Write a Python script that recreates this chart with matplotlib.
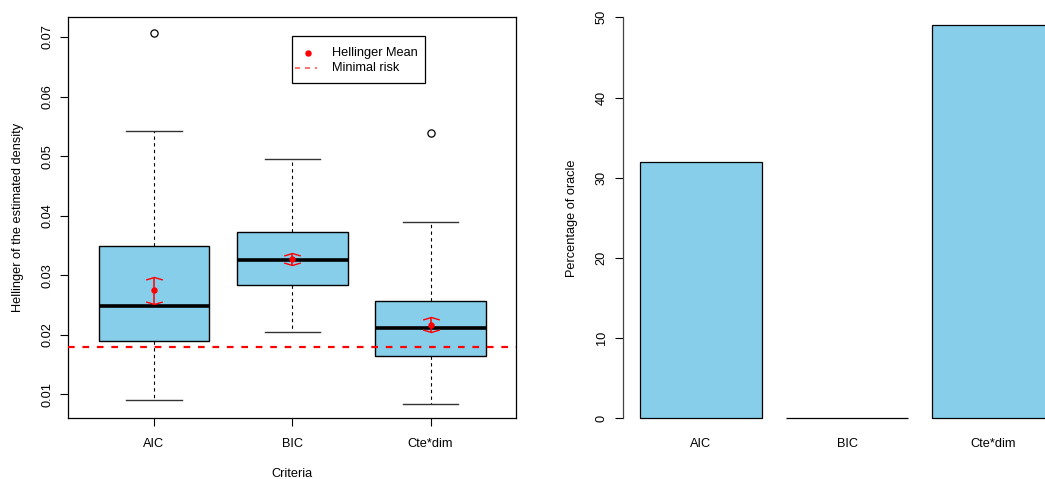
import matplotlib
matplotlib.use('Agg')
import matplotlib.pyplot as plt
import numpy as np
from matplotlib.path import Path
from matplotlib.patches import Rectangle

plt.rcParams['font.family'] = ['Liberation Sans', 'DejaVu Sans']

criteria = ['AIC', 'BIC', 'Cte*dim']

# five-number summaries of the Hellinger risk per criterion
whis_lo = [0.0090, 0.0204, 0.0084]
q1 = [0.0189, 0.0284, 0.0164]
med = [0.0249, 0.0325, 0.0211]
q3 = [0.0349, 0.0372, 0.0257]
whis_hi = [0.0542, 0.0495, 0.0389]
outliers = [[0.0707], [], [0.0538]]

# mean with its confidence band
hell_mean = [0.0275, 0.0327, 0.0217]
mean_lo = [0.0252, 0.0317, 0.0204]
mean_hi = [0.0297, 0.0338, 0.0230]

min_risk = 0.0179

# how often each criterion picked the oracle model
oracle_pct = [32, 0, 49]

W, H = 1045, 479
fig = plt.figure(figsize=(W / 100, H / 100), dpi=100)
fs = 9.2
sky = '#87CEEB'


def px_axes(x0, x1, y0, y1):
    return fig.add_axes([x0 / W, 1 - y1 / H, (x1 - x0) / W, (y1 - y0) / H])


# ---- left panel: boxplots ----
L, R, T, B = 68.3, 516.3, 17.3, 418.3
ax = px_axes(L, R, T, B)


def frac(px, py):
    return (px - L) / (R - L), (B - py) / (B - T)


stats = []
for i in range(3):
    stats.append(dict(med=med[i], q1=q1[i], q3=q3[i], whislo=whis_lo[i],
                      whishi=whis_hi[i], fliers=outliers[i]))
pos = np.arange(1, 4)
ax.bxp(stats, positions=pos, widths=0.8, patch_artist=True, showfliers=True,
       boxprops=dict(facecolor=sky, edgecolor='black', linewidth=1.0),
       medianprops=dict(color='black', linewidth=2.6, solid_capstyle='butt'),
       whiskerprops=dict(color='black', linewidth=0.8, linestyle=(0, (3, 3))),
       capprops=dict(color='#333333', linewidth=1.0),
       capwidths=0.4,
       flierprops=dict(marker='o', markerfacecolor='none', markeredgecolor='black',
                       markersize=5.2, markeredgewidth=0.9))

ax.axhline(min_risk, color='red', linewidth=1.6, linestyle=(0, (3, 3.5)), zorder=5)

# mean points with arrow-style caps
top_cap = Path([(-1, -0.3), (0, 0), (1, -0.3)], [Path.MOVETO, Path.LINETO, Path.LINETO])
bot_cap = Path([(-1, 0.3), (0, 0), (1, 0.3)], [Path.MOVETO, Path.LINETO, Path.LINETO])
ax.vlines(pos, mean_lo, mean_hi, color='red', linewidth=1.1, zorder=6)
ax.plot(pos, mean_hi, linestyle='none', marker=top_cap, markersize=12,
        markerfacecolor='none', markeredgecolor='red', markeredgewidth=1.0, zorder=6)
ax.plot(pos, mean_lo, linestyle='none', marker=bot_cap, markersize=12,
        markerfacecolor='none', markeredgecolor='red', markeredgewidth=1.0, zorder=6)
ax.plot(pos, hell_mean, linestyle='none', marker='o', markersize=3.6, color='red', zorder=7)

ax.set_xlim(0.38, 3.62)
ax.set_ylim(0.00597, 0.0733)
ax.set_xticks(pos)
ax.set_xticklabels(criteria, fontsize=fs)
ax.set_yticks([0.01, 0.02, 0.03, 0.04, 0.05, 0.06, 0.07])
ax.set_yticklabels(['0.01', '0.02', '0.03', '0.04', '0.05', '0.06', '0.07'],
                   fontsize=fs, rotation=90, va='center')
ax.tick_params(axis='x', length=6, width=0.8, pad=8.5)
ax.tick_params(axis='y', length=6, width=0.8, pad=5)
for s in ax.spines.values():
    s.set_linewidth(0.9)
ax.set_xlabel('Criteria', fontsize=fs, labelpad=12.5)
ax.set_ylabel('Hellinger of the estimated density', fontsize=fs, labelpad=12)

# legend box drawn by hand
x0, y1 = frac(292.3, 36.0)
x1, y0 = frac(425.3, 83.3)
ax.add_patch(Rectangle((x0, y0), x1 - x0, y1 - y0, transform=ax.transAxes,
                       facecolor='white', edgecolor='black', linewidth=0.9, zorder=8))
mx, my = frac(308.3, 52.7)
ax.plot([mx], [my], transform=ax.transAxes, marker='o', markersize=3.6,
        color='red', linestyle='none', zorder=9)
lx0, ly = frac(295, 68.3)
lx1, _ = frac(317, 68.3)
ax.plot([lx0, lx1], [ly, ly], transform=ax.transAxes, color='#ff5a5a',
        linewidth=1.2, linestyle=(0, (3, 3)), zorder=9)
tx, _ = frac(331.7, 0)
ax.text(tx, my, 'Hellinger Mean', transform=ax.transAxes, fontsize=fs,
        va='center', ha='left', zorder=9)
ax.text(tx, ly, 'Minimal risk', transform=ax.transAxes, fontsize=fs,
        va='center', ha='left', zorder=9)

# ---- right panel: bar chart ----
bx = px_axes(623.1, 1071.0, 17.3, 418.3)
centers = [0.7, 1.9, 3.1]
bx.bar(centers, oracle_pct, width=1.0, color=sky, edgecolor='black', linewidth=0.9,
       clip_on=False)
bx.set_xlim(0.064, 3.736)
bx.set_ylim(0, 50)
for side in ['top', 'right', 'bottom']:
    bx.spines[side].set_visible(False)
bx.spines['left'].set_linewidth(0.9)
bx.spines['left'].set_color('#444444')
bx.set_yticks([0, 10, 20, 30, 40, 50])
bx.set_yticklabels(['0', '10', '20', '30', '40', '50'], fontsize=fs, rotation=90, va='center')
bx.tick_params(axis='y', length=6, width=0.8, pad=5)
bx.set_xticks(centers)
bx.set_xticklabels(criteria, fontsize=fs)
bx.tick_params(axis='x', length=0, pad=14)
bx.set_ylabel('Percentage of oracle', fontsize=fs, labelpad=13)

fig.savefig('out.png', dpi=100)
